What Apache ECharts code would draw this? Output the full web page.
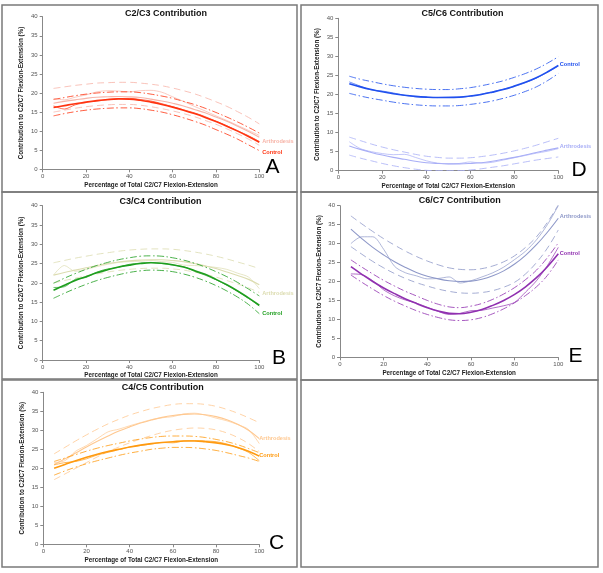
<!DOCTYPE html>
<html><head><meta charset="utf-8">
<script src="https://cdn.jsdelivr.net/npm/echarts@6/dist/echarts.min.js"></script>
<style>html,body{margin:0;padding:0;background:#fff}#c{width:603px;height:573px}</style>
</head><body><div id="c"></div>
<script>
// x positions (% of total C2/C7 flexion-extension)
const X = [5,10,15,20,25,30,35,40,45,50,55,60,65,70,75,80,85,90,95,100];
const xTicks = [0,20,40,60,80,100];
const yTicks = [0,5,10,15,20,25,30,35,40];

// ---- Panel A: C2/C3 ----
const A_ctrlMean  = [16.2,16.7,17.2,17.6,18.0,18.3,18.45,18.4,18.1,17.6,17.0,16.3,15.5,14.6,13.6,12.5,11.3,10.0,8.6,7.1];
const A_ctrlUpper = [18.3,18.8,19.3,19.7,20.0,20.2,20.3,20.3,20.1,19.7,19.2,18.6,17.8,17.0,16.0,14.9,13.7,12.4,11.0,9.5];
const A_ctrlLower = [14.0,14.6,15.1,15.5,15.8,16.0,16.1,16.1,15.9,15.5,15.0,14.3,13.5,12.6,11.6,10.4,9.2,7.9,6.4,4.9];
const A_ctrlRaw   = [16.6,15.8,16.9,17.5,17.9,18.2,18.5,18.6,18.3,17.9,17.2,16.4,15.6,14.8,13.8,12.6,11.4,10.1,8.8,7.3];
const A_arthUpper = [21.2,21.6,22.0,22.3,22.6,22.7,22.8,22.8,22.6,22.3,21.9,21.3,20.6,19.8,18.8,17.7,16.5,15.1,13.6,11.9];
const A_arthMean  = [17.3,17.8,18.2,18.6,18.9,19.0,19.1,19.0,18.8,18.4,17.9,17.3,16.6,15.7,14.8,13.7,12.6,11.3,9.9,8.4];
const A_arthLower = [15.0,15.5,16.0,16.4,16.7,16.9,17.0,17.0,16.8,16.4,15.9,15.3,14.6,13.8,12.8,11.8,10.6,9.3,7.9,6.3];
const A_arthRaw   = [18.6,18.2,18.9,19.5,20.3,20.6,20.5,20.3,20.6,20.7,20.2,19.0,17.8,16.5,15.3,14.0,12.8,11.5,10.2,8.9];

// ---- Panel B: C3/C4 ----
const B_ctrlMean  = [18.1,19.4,20.6,21.6,22.6,23.4,24.1,24.6,25.0,25.2,25.1,24.7,24.1,23.2,22.2,20.9,19.5,17.9,16.1,14.2];
const B_ctrlUpper = [19.9,21.2,22.4,23.5,24.5,25.3,26.0,26.5,26.9,27.0,26.9,26.5,25.9,25.1,24.1,22.9,21.6,20.1,18.4,16.6];
const B_ctrlLower = [16.0,17.3,18.5,19.6,20.6,21.4,22.1,22.7,23.1,23.3,23.2,22.9,22.3,21.5,20.5,19.3,17.9,16.3,14.4,12.0];
const B_ctrlRaw   = [18.8,19.0,20.9,21.4,22.8,23.6,24.0,24.8,25.1,25.3,25.0,24.6,24.2,23.0,22.0,20.8,19.4,17.8,16.0,14.0];
const B_arthUpper = [25.2,25.8,26.4,26.9,27.4,27.8,28.2,28.5,28.7,28.8,28.8,28.7,28.4,28.0,27.5,26.9,26.2,25.4,24.6,23.7];
const B_arthMean  = [22.0,22.7,23.3,23.9,24.5,25.0,25.4,25.7,25.9,26.0,26.0,25.8,25.5,25.0,24.4,23.7,22.8,21.9,20.9,19.5];
const B_arthLower = [20.0,20.6,21.2,21.8,22.3,22.8,23.2,23.5,23.7,23.8,23.8,23.6,23.3,22.8,22.2,21.5,20.6,19.7,18.7,17.5];
const B_arthRaw   = [22.0,24.5,23.0,23.5,24.2,24.8,25.3,25.5,25.6,25.8,25.5,25.3,24.6,24.5,24.3,24.0,23.5,22.5,21.5,18.5];

// ---- Panel C: C4/C5 ----
const C_ctrlMean  = [20.0,21.0,22.0,22.9,23.7,24.4,25.0,25.6,26.1,26.5,26.8,27.0,27.2,27.2,27.0,26.7,26.2,25.5,24.5,23.2];
const C_ctrlUpper = [21.8,22.7,23.6,24.5,25.3,26.0,26.6,27.2,27.7,28.1,28.4,28.5,28.5,28.4,28.1,27.6,27.0,26.2,25.2,24.1];
const C_ctrlLower = [18.2,19.3,20.3,21.2,22.0,22.7,23.4,24.0,24.5,25.0,25.3,25.5,25.5,25.4,25.1,24.7,24.1,23.4,22.7,21.8];
const C_ctrlRaw   = [20.9,21.5,21.8,22.5,23.5,24.2,24.9,25.6,26.0,26.4,26.8,26.7,27.2,27.3,27.2,27.0,26.4,25.4,24.2,22.0];
const C_arthUpper = [23.8,25.5,27.2,28.8,30.3,31.7,32.9,34.0,34.9,35.7,36.3,36.8,37.0,37.0,36.8,36.3,35.5,34.5,33.3,32.0];
const C_arthMean  = [21.0,22.5,24.0,25.6,27.1,28.5,29.8,30.9,31.9,32.7,33.4,33.9,34.2,34.3,34.1,33.6,32.8,31.6,30.0,27.8];
const C_arthLower = [17.0,18.5,20.0,21.5,23.0,24.4,25.6,26.7,27.7,28.6,29.4,30.0,30.4,30.6,30.5,30.1,29.3,28.1,26.5,24.4];
const C_arthRaw   = [21.5,22.0,24.5,26.0,27.8,29.6,30.3,31.2,32.0,32.8,33.3,33.6,34.3,34.5,34.0,33.2,32.5,31.5,30.2,26.5];

// ---- Panel D: C5/C6 ----
const D_ctrlMean  = [22.8,22.0,21.3,20.7,20.2,19.8,19.5,19.3,19.2,19.2,19.3,19.6,20.0,20.6,21.3,22.2,23.2,24.4,25.9,27.6];
const D_ctrlUpper = [24.8,24.0,23.4,22.8,22.3,21.9,21.6,21.4,21.3,21.3,21.5,21.8,22.3,22.9,23.6,24.5,25.5,26.7,28.2,29.9];
const D_ctrlLower = [20.3,19.6,19.0,18.5,18.0,17.6,17.3,17.1,17.0,17.0,17.1,17.4,17.8,18.3,19.0,19.8,20.8,22.0,23.6,25.5];
const D_ctrlRaw   = [23.3,22.2,21.2,20.9,20.4,19.8,19.4,19.3,19.2,19.3,19.2,19.6,20.1,20.7,21.4,22.1,23.1,24.3,25.8,27.5];
const D_arthUpper = [8.8,7.9,7.0,6.2,5.5,4.9,4.3,3.8,3.5,3.3,3.3,3.4,3.7,4.1,4.6,5.2,5.9,6.7,7.6,8.5];
const D_arthMean  = [6.5,5.6,4.8,4.1,3.5,3.0,2.5,2.1,1.9,1.8,1.8,1.9,2.1,2.5,3.0,3.5,4.1,4.8,5.4,6.0];
const D_arthLower = [4.1,3.3,2.6,1.9,1.3,0.8,0.4,0.1,0.0,0.0,0.0,0.2,0.5,0.9,1.3,1.8,2.3,2.8,3.2,3.6];
const D_arthRaw   = [7.6,5.8,5.0,4.5,4.2,4.3,3.5,2.6,2.0,1.8,1.9,2.3,2.0,2.2,2.8,3.4,4.0,4.6,5.1,5.8];

// ---- Panel E: C6/C7 ----
const E_ctrlMean  = [23.9,21.9,20.0,18.3,16.8,15.4,14.2,13.1,12.2,11.6,11.5,11.9,12.6,13.7,15.0,16.6,18.6,21.0,23.9,27.3];
const E_ctrlUpper = [25.7,23.8,22.0,20.3,18.8,17.4,16.2,15.0,14.0,13.3,13.1,13.5,14.2,15.3,16.7,18.4,20.5,23.0,26.3,30.2];
const E_ctrlLower = [21.7,19.8,18.0,16.3,14.8,13.5,12.3,11.3,10.5,9.9,9.7,9.9,10.5,11.5,12.8,14.4,16.3,18.6,21.6,25.7];
const E_ctrlRaw   = [22.0,21.8,20.2,17.8,16.2,15.1,14.3,13.2,12.1,11.3,11.6,12.3,12.4,13.0,13.6,14.5,17.2,20.2,24.2,29.0];
const E_arthUpper = [37.3,35.2,33.2,31.3,29.6,28.0,26.6,25.4,24.4,23.6,23.2,23.1,23.4,24.1,25.2,26.8,29.0,31.8,35.6,40.2];
const E_arthMean  = [33.8,31.3,29.0,27.0,25.2,23.7,22.4,21.4,20.7,20.2,20.0,20.1,20.6,21.5,22.8,24.6,26.9,29.7,33.0,36.7];
const E_arthLower = [29.2,27.2,25.3,23.6,22.1,20.8,19.7,18.8,18.0,17.4,17.0,16.9,17.1,17.6,18.5,19.8,22.0,25.0,28.8,33.6];
const E_arthRaw   = [30.0,31.8,31.8,28.5,24.0,22.3,21.5,20.7,20.8,21.2,19.6,20.2,21.2,22.3,23.8,25.8,28.0,31.0,35.0,40.0];

const titles = ['C2/C3 Contribution','C3/C4 Contribution','C4/C5 Contribution','C5/C6 Contribution','C6/C7 Contribution'];
const letters = ['A','B','C','D','E'];
const xName = 'Percentage of Total C2/C7 Flexion-Extension';
const yName = 'Contribution to C2/C7 Flexion-Extension (%)';
const ctrlLabel = 'Control';
const arthLabel = 'Arthrodesis';

const FONT = '"Liberation Sans", Arial, sans-serif';
const panels = [
  {grid:{left:42.7,top:16.7,width:216.6,height:152.6}, title:[166,13.5], letter:[272.5,167.5],
   cc:'#ff3310', ac:'#f7b4a8', lab:{dist:3, cdy:10, ady:4},
   d:[A_ctrlMean,A_ctrlUpper,A_ctrlLower,A_ctrlRaw,A_arthMean,A_arthUpper,A_arthLower,A_arthRaw]},
  {grid:{left:42.7,top:205.7,width:216.6,height:154.3}, title:[160.5,201.5], letter:[279,358],
   cc:'#1e9e1e', ac:'#dcdcb0', lab:{dist:3, cdy:8, ady:9},
   d:[B_ctrlMean,B_ctrlUpper,B_ctrlLower,B_ctrlRaw,B_arthMean,B_arthUpper,B_arthLower,B_arthRaw]},
  {grid:{left:43.3,top:392.3,width:216,height:152}, title:[162.7,388], letter:[276.5,543.7],
   cc:'#ff9a10', ac:'#ffc890', lab:{dist:0, cdy:-1, ady:0},
   d:[C_ctrlMean,C_ctrlUpper,C_ctrlLower,C_ctrlRaw,C_arthMean,C_arthUpper,C_arthLower,C_arthRaw]},
  {grid:{left:338.3,top:18.3,width:220,height:152.4}, title:[462.5,14], letter:[579,170],
   cc:'#2050ee', ac:'#a8aef6', lab:{dist:1.5, cdy:-1.5, ady:-1},
   d:[D_ctrlMean,D_ctrlUpper,D_ctrlLower,D_ctrlRaw,D_arthMean,D_arthUpper,D_arthLower,D_arthRaw]},
  {grid:{left:340,top:205.7,width:218.3,height:151.6}, title:[459.7,201], letter:[575.5,356],
   cc:'#9030b0', ac:'#8e98c8', lab:{dist:1.5, cdy:0, ady:-1.5},
   d:[E_ctrlMean,E_ctrlUpper,E_ctrlLower,E_ctrlRaw,E_arthMean,E_arthUpper,E_arthLower,E_arthRaw]}
];

const grids=[], xAxes=[], yAxes=[], series=[], graphics=[];
const toPts = v => X.map((x,i)=>[x,v[i]]);

// panel frames
[[2,5,295,187],[2,192,295,187],[2,380,295,187],[301,5,297,187],[301,192,297,188],[301,380,297,187]].forEach(r=>{
  graphics.push({type:'rect',shape:{x:r[0],y:r[1],width:r[2],height:r[3]},style:{fill:'none',stroke:'#7a7a7a',lineWidth:1.5},silent:true});
});

panels.forEach((p,i)=>{
  grids.push(Object.assign({containLabel:false}, p.grid));
  const axisCommon = {
    gridIndex:i, type:'value',
    axisLine:{show:true,lineStyle:{color:'#888',width:1}},
    axisTick:{show:true,length:3,inside:false,lineStyle:{color:'#888'}},
    splitLine:{show:false},
    nameLocation:'middle',
    nameTextStyle:{fontFamily:FONT,fontSize:6.3,fontWeight:'bold',color:'#222'}
  };
  xAxes.push(Object.assign({}, axisCommon, {min:xTicks[0],max:xTicks[xTicks.length-1],interval:20,
    name:xName,nameGap:12.5,
    axisLabel:{fontFamily:FONT,fontSize:6,color:'#555',margin:4}}));
  yAxes.push(Object.assign({}, axisCommon, {min:yTicks[0],max:yTicks[yTicks.length-1],interval:5,
    name:yName,nameGap:18,
    axisLabel:{fontFamily:FONT,fontSize:6,color:'#555',margin:5}}));
  const [cm,cu,cl,cr,am,au,al,ar] = p.d;
  const base = {type:'line',xAxisIndex:i,yAxisIndex:i,symbol:'none',showSymbol:false,silent:true,animation:false};
  const dashed=[7,4], dashdot=[7,2.5,1.5,2.5];
  series.push(Object.assign({},base,{data:toPts(au),smooth:0.4,lineStyle:{color:p.ac,width:0.8,type:dashed}}));
  series.push(Object.assign({},base,{data:toPts(al),smooth:0.4,lineStyle:{color:p.ac,width:0.8,type:dashed}}));
  series.push(Object.assign({},base,{data:toPts(ar),smooth:0.3,lineStyle:{color:p.ac,width:0.7}}));
  series.push(Object.assign({},base,{data:toPts(am),smooth:0.4,lineStyle:{color:p.ac,width:1.1},
    endLabel:{show:true,formatter:arthLabel,color:p.ac,fontFamily:FONT,fontSize:5.6,fontWeight:'bold',distance:p.lab.dist,offset:[0,p.lab.ady]}}));
  series.push(Object.assign({},base,{data:toPts(cu),smooth:0.4,lineStyle:{color:p.cc,width:0.8,type:dashdot}}));
  series.push(Object.assign({},base,{data:toPts(cl),smooth:0.4,lineStyle:{color:p.cc,width:0.8,type:dashdot}}));
  series.push(Object.assign({},base,{data:toPts(cr),smooth:0.3,lineStyle:{color:p.cc,width:0.7}}));
  series.push(Object.assign({},base,{data:toPts(cm),smooth:0.4,lineStyle:{color:p.cc,width:1.6},
    endLabel:{show:true,formatter:ctrlLabel,color:p.cc,fontFamily:FONT,fontSize:5.6,fontWeight:'bold',distance:p.lab.dist,offset:[0,p.lab.cdy]}}));
  graphics.push({type:'text',x:p.title[0],y:p.title[1],silent:true,
    style:{text:titles[i],fontFamily:FONT,fontSize:9,fontWeight:'bold',fill:'#111',textAlign:'center',textVerticalAlign:'middle'}});
  graphics.push({type:'text',x:p.letter[0],y:p.letter[1],silent:true,
    style:{text:letters[i],fontFamily:FONT,fontSize:21,fill:'#000',textAlign:'center',textVerticalAlign:'middle'}});
});

const chart = echarts.init(document.getElementById('c'),null,{renderer:'canvas'});
chart.setOption({animation:false,backgroundColor:'#fff',grid:grids,xAxis:xAxes,yAxis:yAxes,series:series,graphic:graphics});
</script></body></html>
